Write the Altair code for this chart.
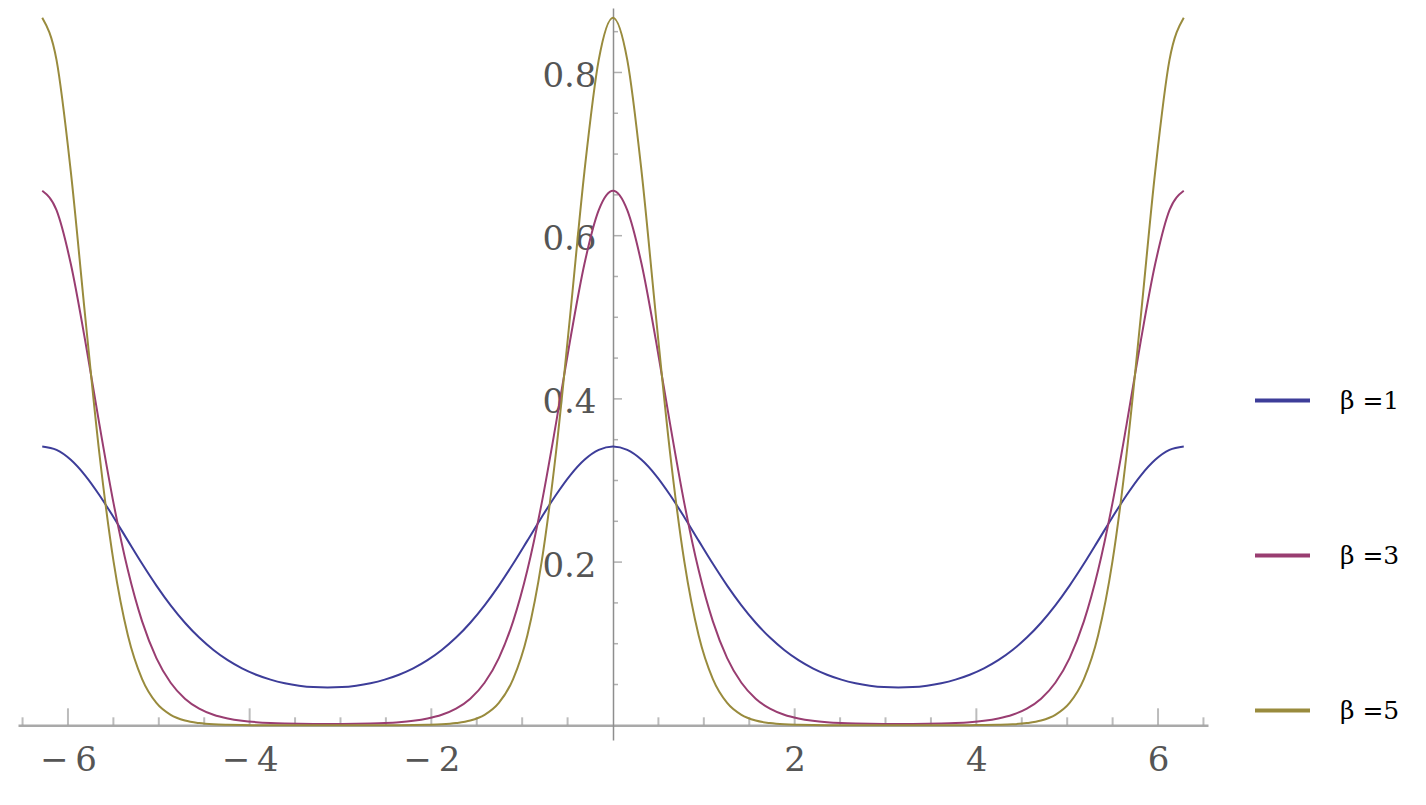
import altair as alt
import pandas as pd

# sample positions (radians), -2π .. 2π
x_vals = [-6.2832, -6.1261, -5.9690, -5.8119, -5.6549, -5.4978, -5.3407, -5.1836, -5.0265, -4.8695,
          -4.7124, -4.5553, -4.3982, -4.2412, -4.0841, -3.9270, -3.7699, -3.6128, -3.4558, -3.2987,
          -3.1416, -2.9845, -2.8274, -2.6704, -2.5133, -2.3562, -2.1991, -2.0420, -1.8850, -1.7279,
          -1.5708, -1.4137, -1.2566, -1.0996, -0.9425, -0.7854, -0.6283, -0.4712, -0.3142, -0.1571,
          0.0,
          0.1571, 0.3142, 0.4712, 0.6283, 0.7854, 0.9425, 1.0996, 1.2566, 1.4137, 1.5708,
          1.7279, 1.8850, 2.0420, 2.1991, 2.3562, 2.5133, 2.6704, 2.8274, 2.9845, 3.1416,
          3.2987, 3.4558, 3.6128, 3.7699, 3.9270, 4.0841, 4.2412, 4.3982, 4.5553, 4.7124,
          4.8695, 5.0265, 5.1836, 5.3407, 5.4978, 5.6549, 5.8119, 5.9690, 6.1261, 6.2832]

beta1 = [0.3417, 0.3375, 0.3254, 0.3064, 0.2823, 0.2550, 0.2263, 0.1979, 0.1712, 0.1470,
         0.1257, 0.1075, 0.0923, 0.0798, 0.0698, 0.0620, 0.0560, 0.0516, 0.0486, 0.0468,
         0.0463, 0.0468, 0.0486, 0.0516, 0.0560, 0.0620, 0.0698, 0.0798, 0.0923, 0.1075,
         0.1257, 0.1470, 0.1712, 0.1979, 0.2263, 0.2550, 0.2823, 0.3064, 0.3254, 0.3375,
         0.3417,
         0.3375, 0.3254, 0.3064, 0.2823, 0.2550, 0.2263, 0.1979, 0.1712, 0.1470, 0.1257,
         0.1075, 0.0923, 0.0798, 0.0698, 0.0620, 0.0560, 0.0516, 0.0486, 0.0468, 0.0463,
         0.0468, 0.0486, 0.0516, 0.0560, 0.0620, 0.0698, 0.0798, 0.0923, 0.1075, 0.1257,
         0.1470, 0.1712, 0.1979, 0.2263, 0.2550, 0.2823, 0.3064, 0.3254, 0.3375, 0.3417]

beta3 = [0.6550, 0.6312, 0.5655, 0.4723, 0.3693, 0.2720, 0.1902, 0.1273, 0.0824, 0.0521,
         0.0326, 0.0204, 0.0129, 0.0084, 0.0056, 0.0039, 0.0029, 0.0023, 0.0019, 0.0017,
         0.0016, 0.0017, 0.0019, 0.0023, 0.0029, 0.0039, 0.0056, 0.0084, 0.0129, 0.0204,
         0.0326, 0.0521, 0.0824, 0.1273, 0.1902, 0.2720, 0.3693, 0.4723, 0.5655, 0.6312,
         0.6550,
         0.6312, 0.5655, 0.4723, 0.3693, 0.2720, 0.1902, 0.1273, 0.0824, 0.0521, 0.0326,
         0.0204, 0.0129, 0.0084, 0.0056, 0.0039, 0.0029, 0.0023, 0.0019, 0.0017, 0.0016,
         0.0017, 0.0019, 0.0023, 0.0029, 0.0039, 0.0056, 0.0084, 0.0129, 0.0204, 0.0326,
         0.0521, 0.0824, 0.1273, 0.1902, 0.2720, 0.3693, 0.4723, 0.5655, 0.6312, 0.6550]

beta5 = [0.8671, 0.8154, 0.6789, 0.5028, 0.3337, 0.2005, 0.1104, 0.0566, 0.0274, 0.0128,
         0.0058, 0.0027, 0.0012, 0.0006, 0.0003, 0.0002, 0.0001, 0.0001, 0.0001, 0.0000,
         0.0000, 0.0000, 0.0001, 0.0001, 0.0001, 0.0002, 0.0003, 0.0006, 0.0012, 0.0027,
         0.0058, 0.0128, 0.0274, 0.0566, 0.1104, 0.2005, 0.3337, 0.5028, 0.6789, 0.8154,
         0.8671,
         0.8154, 0.6789, 0.5028, 0.3337, 0.2005, 0.1104, 0.0566, 0.0274, 0.0128, 0.0058,
         0.0027, 0.0012, 0.0006, 0.0003, 0.0002, 0.0001, 0.0001, 0.0001, 0.0000, 0.0000,
         0.0000, 0.0001, 0.0001, 0.0001, 0.0002, 0.0003, 0.0006, 0.0012, 0.0027, 0.0058,
         0.0128, 0.0274, 0.0566, 0.1104, 0.2005, 0.3337, 0.5028, 0.6789, 0.8154, 0.8671]

series_names = ["β =1", "β =3", "β =5"]
series_colors = ["#3D3D99", "#993D71", "#998B3D"]

x_tick_values = [-6, -4, -2, 2, 4, 6]
x_minor_ticks = [-6.5, -5.5, -5, -4.5, -3.5, -3, -2.5, -1.5, -1, -0.5,
                 0.5, 1, 1.5, 2.5, 3, 3.5, 4.5, 5, 5.5, 6.5]
y_tick_values = [0.2, 0.4, 0.6, 0.8]
y_minor_ticks = [0.05, 0.1, 0.15, 0.25, 0.3, 0.35, 0.45, 0.5, 0.55, 0.65, 0.7, 0.75, 0.85]

x_domain = [-6.55, 6.55]
y_domain = [-0.018, 0.879]
W, H = 1190, 732

SERIF = "DejaVu Serif"

df = pd.DataFrame({
    "x": x_vals * 3,
    "y": beta1 + beta3 + beta5,
    "series": [series_names[0]] * len(x_vals) + [series_names[1]] * len(x_vals) + [series_names[2]] * len(x_vals),
})

xmaj = pd.DataFrame({"x": x_tick_values, "y": [0] * len(x_tick_values)})
xmin = pd.DataFrame({"x": x_minor_ticks, "y": [0] * len(x_minor_ticks)})
ymaj = pd.DataFrame({"x": [0] * len(y_tick_values), "y": y_tick_values})
ymin = pd.DataFrame({"x": [0] * len(y_minor_ticks), "y": y_minor_ticks})

x_off = -(0 - y_domain[0]) / (y_domain[1] - y_domain[0]) * H
y_off = -(0 - x_domain[0]) / (x_domain[1] - x_domain[0]) * W

xscale = alt.Scale(domain=x_domain, nice=False, zero=False)
yscale = alt.Scale(domain=y_domain, nice=False, zero=False)

x_axis = alt.Axis(values=x_tick_values, title=None, ticks=False, tickSize=0, grid=False,
                  domainColor="#a9a9a9", domainWidth=2.5, labelFont=SERIF,
                  labelFontSize=34, labelColor="#555555", labelPadding=18, offset=x_off,
                  labelExpr="datum.value < 0 ? '\u2212\u2009' + abs(datum.value) : datum.label",
                  labelFlush=False, labelOverlap=False, zindex=0)
y_axis = alt.Axis(values=y_tick_values, title=None, ticks=False, tickSize=0, grid=False,
                  domainColor="#8e8e8e", domainWidth=1.5, labelFont=SERIF,
                  labelFontSize=34, labelColor="#555555", labelPadding=17, offset=y_off,
                  format=".1f", labelAlign="right", labelBaseline="middle", labelOffset=4,
                  labelFlush=False, labelOverlap=False, zindex=0)

tick_color = "#a0a0a0"

def xt(data, size):
    return alt.Chart(data).mark_tick(orient="vertical", size=size, thickness=2,
                                     yOffset=-size / 2, color=tick_color).encode(
        x=alt.X("x:Q", scale=xscale, axis=x_axis),
        y=alt.Y("y:Q", scale=yscale, axis=y_axis),
    )

def yt(data, size):
    return alt.Chart(data).mark_tick(orient="horizontal", size=size, thickness=1.5,
                                     xOffset=size / 2, color="#8e8e8e").encode(
        x=alt.X("x:Q", scale=xscale, axis=x_axis),
        y=alt.Y("y:Q", scale=yscale, axis=y_axis),
    )

lines = alt.Chart(df).mark_line(strokeWidth=2, interpolate="monotone").encode(
    x=alt.X("x:Q", scale=xscale, axis=x_axis),
    y=alt.Y("y:Q", scale=yscale, axis=y_axis),
    color=alt.Color("series:N",
                    scale=alt.Scale(domain=series_names, range=series_colors),
                    legend=alt.Legend(title=None, orient="none", legendX=1235, legendY=363,
                                      symbolType="stroke", symbolSize=3025, symbolStrokeWidth=4,
                                      labelFont=SERIF, labelFontSize=25,
                                      labelColor="black", labelOffset=28, rowPadding=112,
                                      symbolOpacity=1, padding=0)),
    detail="series:N",
)

chart = alt.layer(xt(xmin, 8), xt(xmaj, 17), yt(ymin, 5), yt(ymaj, 9), lines).properties(
    width=W, height=H,
    padding={"left": 10, "top": 0, "right": 5, "bottom": 5},
).configure_view(stroke=None)

chart.save("out.html", embed_options={"renderer": "svg", "actions": False})
